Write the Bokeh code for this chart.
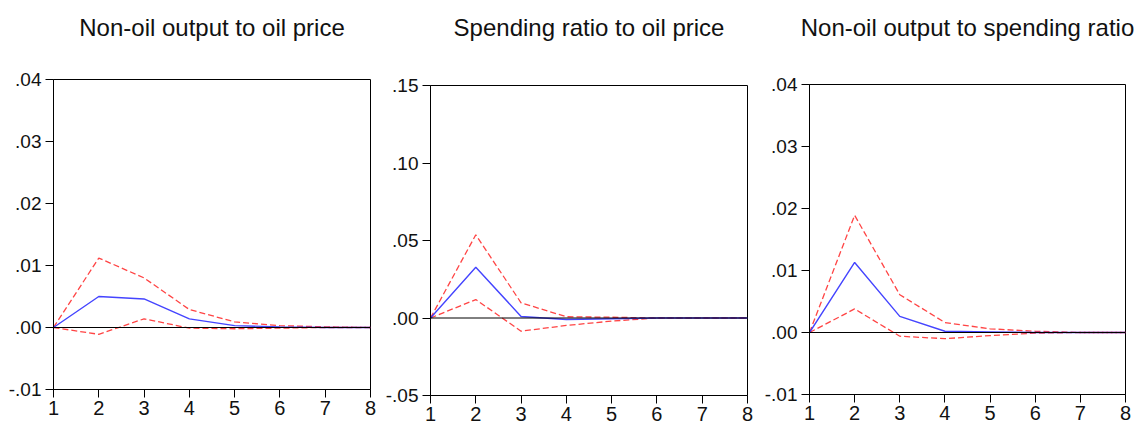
from bokeh.plotting import figure
from bokeh.layouts import row, column, Spacer
from bokeh.models import Range1d, FixedTicker, Span, CustomJSTickFormatter
from bokeh.embed import file_html
from bokeh.resources import INLINE

# Impulse responses over 8 periods: point estimate with upper / lower bands
periods = [1, 2, 3, 4, 5, 6, 7, 8]

titles = [
    "Non-oil output to oil price",
    "Spending ratio to oil price",
    "Non-oil output to spending ratio",
]

p1_resp = [0.0, 0.0050, 0.0046, 0.0014, 0.0003, 0.0001, 0.0, 0.0]
p1_upper = [0.0, 0.0112, 0.0080, 0.0029, 0.0009, 0.0003, 0.0001, 0.0]
p1_lower = [0.0, -0.0011, 0.0014, -0.0001, -0.0002, -0.0001, 0.0, 0.0]

p2_resp = [0.0, 0.0328, 0.0010, -0.0010, -0.0005, 0.0, 0.0, 0.0]
p2_upper = [0.0, 0.0537, 0.0098, 0.0008, 0.0005, 0.0, 0.0, 0.0]
p2_lower = [0.0, 0.0119, -0.0085, -0.0048, -0.0020, 0.0, 0.0, 0.0]

p3_resp = [0.0, 0.0113, 0.0026, 0.0002, 0.0001, 0.0, 0.0, 0.0]
p3_upper = [0.0, 0.0189, 0.0061, 0.0016, 0.0006, 0.0002, 0.0, 0.0]
p3_lower = [0.0, 0.0038, -0.0006, -0.0010, -0.0005, -0.0001, 0.0, 0.0]

p1_yticks = [-0.01, 0.0, 0.01, 0.02, 0.03, 0.04]
p2_yticks = [-0.05, 0.0, 0.05, 0.10, 0.15]
p3_yticks = [-0.01, 0.0, 0.01, 0.02, 0.03, 0.04]

FONT = "Liberation Sans"

fmt = CustomJSTickFormatter(code="""
    var s = Math.abs(tick).toFixed(2).replace(/^0/, '');
    return (tick < -1e-9 ? '-' : '') + s;
""")


def panel(title, resp, upper, lower, yticks, width, height, borders, gap):
    left, right, top, bottom = borders
    p = figure(width=width, height=height, output_backend="svg", toolbar_location=None,
               x_range=Range1d(1, 8), y_range=Range1d(yticks[0], yticks[-1]),
               min_border_left=left, min_border_right=right,
               min_border_top=top, min_border_bottom=bottom,
               title=title)
    p.title.text_font = FONT
    p.title.text_font_size = "24px"
    p.title.text_font_style = "normal"
    p.title.align = "center"
    p.title.vertical_align = "top"
    p.title.text_color = "#111111"
    p.title.standoff = 0
    p.title.padding = (0, 0, 0, gap)

    p.xgrid.visible = False
    p.ygrid.visible = False
    p.outline_line_color = "black"
    p.outline_line_width = 1
    p.background_fill_color = "white"
    p.border_fill_color = "white"

    for ax in (p.xaxis[0], p.yaxis[0]):
        ax.axis_line_color = "black"
        ax.major_tick_line_color = "black"
        ax.minor_tick_line_color = None
        ax.major_tick_in = 0
        ax.major_tick_out = 8
        ax.major_label_text_font = FONT
        ax.major_label_text_color = "#111111"
    p.xaxis.major_label_text_font_size = "20px"
    p.yaxis.major_label_text_font_size = "19px"
    p.xaxis.ticker = FixedTicker(ticks=periods)
    p.xaxis.major_label_standoff = 3
    p.yaxis.ticker = FixedTicker(ticks=yticks)
    p.yaxis.formatter = fmt
    p.yaxis.major_label_standoff = 4

    p.add_layout(Span(location=0, dimension="width", line_color="black", line_width=1))

    p.line(periods, upper, line_color="#ff3030", line_width=1.3, line_dash="6 3", line_alpha=0.9)
    p.line(periods, lower, line_color="#ff3030", line_width=1.3, line_dash="6 3", line_alpha=0.9)
    p.line(periods, resp, line_color="#3030ff", line_width=1.4, line_alpha=0.9)
    return p


f1 = panel(titles[0], p1_resp, p1_upper, p1_lower, p1_yticks, 380, 428, (53, 10, 79, 39), 37)
f2 = panel(titles[1], p2_resp, p2_upper, p2_lower, p2_yticks, 380, 422, (50, 13, 79, 33), 43)
f3 = panel(titles[2], p3_resp, p3_upper, p3_lower, p3_yticks, 381, 423, (49, 16, 79, 34), 42)

layout = row(column(f1), column(Spacer(height=6), f2), column(Spacer(height=5), f3))
open("out.html", "w").write(file_html(layout, INLINE))
